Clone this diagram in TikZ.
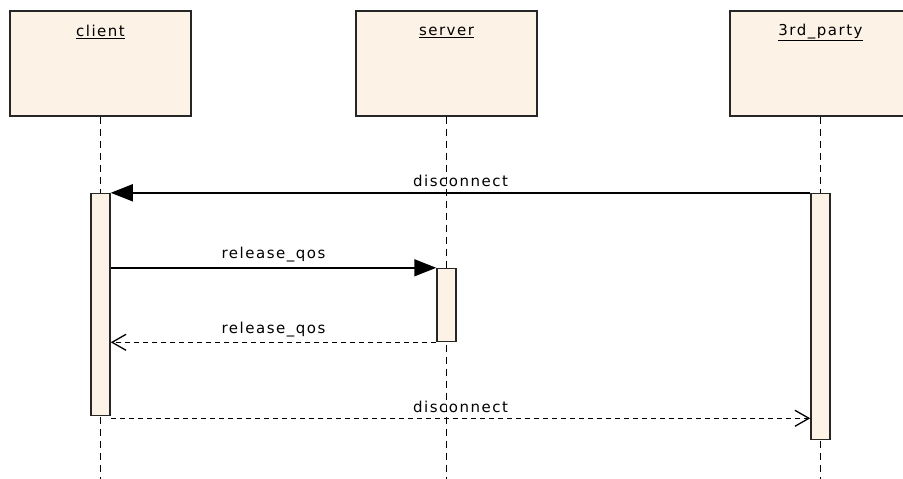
\documentclass[tikz,border=0pt]{standalone}
\usepackage{fontspec}
\newfontfamily\umlfont[LetterSpace=10]{DejaVu Sans}
\usepackage{tikz}
\usetikzlibrary{arrows.meta, positioning}
\definecolor{objfill}{RGB}{252,242,230}
\tikzset{
  obj/.style={rectangle, draw=black!85, line width=1.6pt, fill=objfill, minimum width=181pt, minimum height=105pt, inner sep=0pt},
  objname/.style={font=\umlfont\fontsize{15}{17}\selectfont, inner sep=1pt},
  act/.style={rectangle, draw=black!85, line width=1.5pt, fill=objfill, minimum width=19pt, inner sep=0pt},
  lifeline/.style={line width=1.8pt, dash pattern=on 7pt off 5pt},
  msg/.style={font=\umlfont\fontsize{15}{17}\selectfont, inner sep=2pt},
  call/.style={line width=1.5pt, -{Triangle[length=22pt,width=17pt]}},
  reply/.style={line width=1.5pt, dash pattern=on 5pt off 4pt, -{Straight Barb[length=14pt,width=16pt,line width=1.3pt]}}
}
\begin{document}
\begin{tikzpicture}[x=1pt, y=-1pt, node distance=346pt]
  \clip (0,0) rectangle (903,479);
  \fill[white] (0,0) rectangle (903,479);

  % objects
  \node (client) [obj] at (100.5,63.5) {};
  \node (server) [obj, right of=client] {};
  \node (party) [obj, right of=server, xshift=28pt] {};

  \node (clientName) [objname] at ([yshift=-22pt]client.north) {\underline{client}};
  \node (serverName) [objname] at ([yshift=-22pt]server.north) {\underline{server}};
  \node (partyName) [objname] at ([yshift=-22pt]party.north) {\underline{3rd\_party}};

  % lifelines
  \coordinate (clientEnd) at (client.south |- 0,482);
  \coordinate (serverEnd) at (server.south |- 0,482);
  \coordinate (partyEnd) at (party.south |- 0,482);
  \draw [lifeline] (client.south) -- (clientEnd);
  \draw [lifeline] (server.south) -- (serverEnd);
  \draw [lifeline] (party.south) -- (partyEnd);

  % activations
  \node (actC) [act, minimum height=222pt, below=76pt of client.south] {};
  \node (actS) [act, minimum height=73pt, below=151pt of server.south] {};
  \node (actP) [act, minimum height=246pt, below=76pt of party.south] {};

  % messages
  \coordinate (retC) at ([yshift=-2pt]actC.south east);
  \draw [call] (actP.north west) -- node[msg, above=3pt] {disconnect} (actC.north east);
  \draw [call] (actC.east |- actS.north west) -- node[msg, above=3pt] {release\_qos} (actS.north west);
  \draw [reply] (actS.south west) -- node[msg, above=3pt] {release\_qos} (actC.east |- actS.south west);
  \draw [reply] (retC) -- node[msg, above=3pt] {disconnect} (actP.west |- retC);
\end{tikzpicture}
\end{document}
